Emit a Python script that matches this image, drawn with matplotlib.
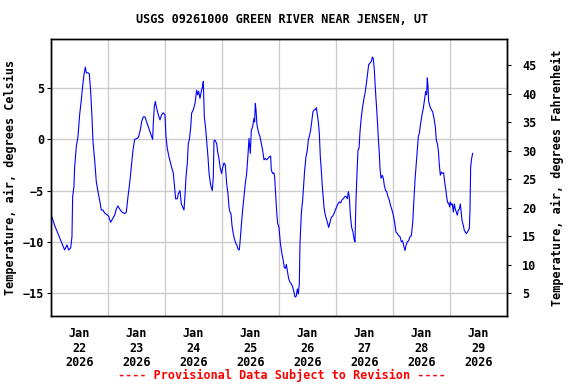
import pandas as pd
import matplotlib
matplotlib.use("Agg")
import matplotlib.pyplot as plt
import matplotlib.dates as mdates
import matplotlib.ticker as mticker

# hours after 2026-01-22 00:00
hours = [
    0.42, 1.54, 2.95, 4.35, 5.75, 6.74, 7.44, 8.28, 8.84, 9.12, 9.68, 9.96,
    10.67, 11.37, 12.07, 12.77, 13.33, 13.89, 14.46, 14.88, 15.58, 16.14,
    16.70, 17.26, 17.68, 18.39, 19.09, 19.79, 20.49, 21.19, 21.90, 22.60,
    23.30, 24.28, 25.12, 26.10, 26.81, 27.51, 28.21, 28.91, 29.89, 31.02,
    31.72, 32.42, 33.12, 33.83, 34.53, 35.23, 36.35, 36.91, 37.75,
    38.17, 38.87, 39.58, 40.28, 40.98, 41.68, 42.80, 43.08, 43.51, 43.93,
    44.49, 45.19, 45.89, 46.59, 47.29, 48.00, 48.42, 48.98, 49.68, 50.38,
    50.94, 51.51, 52.07, 52.49, 53.19, 53.61, 54.31, 54.87, 55.43, 56.00,
    56.42, 56.84, 57.40, 57.82, 58.24, 58.80, 59.22, 59.93, 60.63, 61.33,
    61.75, 62.17, 62.73, 63.29, 63.86, 64.14, 64.56, 65.12, 65.54, 66.10,
    66.52, 66.94, 67.37, 67.93, 68.35, 68.63, 69.05, 69.75, 70.17, 70.73,
    71.29, 71.86, 72.28, 72.84, 73.40, 73.96, 74.52, 74.94, 75.36, 75.79,
    76.21,
    76.63, 77.19, 77.89, 78.32, 78.74, 79.30, 79.72, 80.14, 80.70, 81.26,
    81.82, 82.39, 82.95, 83.37, 83.93, 84.35, 84.91, 85.47, 85.75, 86.03,
    86.32, 86.74, 87.30, 88.00, 88.56, 89.12, 89.68, 90.25, 90.81, 91.37,
    91.93, 92.49, 92.77, 93.33, 93.89, 94.17, 94.60, 95.02, 95.44, 96.00,
    96.56, 97.26, 97.68, 98.24, 98.67, 99.09, 99.51, 100.07, 100.63, 101.19,
    101.75, 102.32, 102.74, 103.30, 103.72, 104.14, 104.56, 104.84, 105.40,
    105.96, 106.38, 106.81, 107.37, 107.93, 108.35, 108.91, 109.33, 109.89,
    110.31, 110.88, 111.30, 111.72, 112.14, 112.56, 112.98, 113.40, 113.82,
    114.24, 114.81,
    114.95, 115.37, 115.93, 116.49, 116.91, 117.48, 118.04, 118.60, 119.16,
    119.72, 120.28, 120.84, 121.41, 121.97, 122.53, 123.09, 123.65, 124.21,
    124.77, 125.20, 125.62, 126.04, 126.60, 127.16, 127.58, 128.00, 128.42,
    128.84, 129.27, 129.69, 130.11, 130.67, 131.23, 131.79, 132.35, 132.91,
    133.34, 133.76, 134.32, 134.88, 135.30, 135.72, 136.14, 136.56, 136.98,
    137.41, 137.83, 138.25, 138.53, 138.95, 139.51, 139.93, 140.35, 140.91,
    141.34, 141.90, 142.46, 143.02, 143.58, 144.14, 144.70, 145.27, 145.83,
    146.39, 146.95, 147.51, 148.07, 148.63, 149.06, 149.48, 150.04, 150.60,
    151.16, 151.72, 152.28, 152.70,
    153.26, 153.68, 154.24, 154.66, 155.09, 155.65, 156.21, 156.77, 157.33,
    157.75, 158.17, 158.45, 158.73, 159.02, 159.58, 160.14, 160.70, 161.26,
    161.82, 162.24, 162.66, 163.09, 163.51, 163.93, 164.35, 164.91, 165.33,
    165.75, 166.17, 166.59, 167.02, 167.44, 167.86, 168.14, 168.56, 168.98,
    169.40, 169.82, 170.24, 170.66, 171.09, 171.51, 171.93, 172.35, 172.63,
    173.05, 173.61, 174.04, 174.46, 174.88, 175.30, 175.72, 176.14, 176.42,
    176.70, 177.12, 177.54,
]

# air temperature, degrees Celsius
temp_c = [
    -7.6, -8.4, -9.2, -10.0, -10.8, -10.3, -10.8, -10.6, -9.5, -5.6, -4.6, -2.7,
    -0.7, 0.26, 2.4, 3.86, 5.2, 6.3, 7.06, 6.5, 6.5, 6.4,
    4.7, 2.2, -0.2, -2.0, -4.15, -5.1, -5.95, -6.9, -6.9, -7.2,
    -7.3, -7.5, -8.1, -7.7, -7.4, -6.8, -6.5, -6.8, -7.1, -7.25,
    -7.1, -5.6, -4.3, -2.7, -1.05, 0.0, 0.1, 0.26, 1.08,
    1.73, 2.2, 2.2, 1.7, 1.24, 0.75, 0.0, 1.57, 3.2, 3.7,
    3.04, 2.4, 1.9, 2.4, 2.6, 2.4, 0.26, -0.9, -1.7, -2.35,
    -2.85, -3.3, -4.8, -5.8, -5.8, -5.3, -5.0, -6.3, -6.6, -6.9,
    -5.5, -3.7, -2.35, -0.4, -0.07, 1.08, 2.55, 2.9, 3.5, 4.8,
    4.35, 4.7, 4.0, 4.7, 5.2, 5.65, 2.2, 1.08, -0.07, -1.7,
    -3.2, -4.0, -4.6, -5.0, -3.66, -0.13, -0.07, -0.4, -1.2, -1.86,
    -2.84, -3.33, -2.75, -2.3, -2.5, -4.3, -5.3, -6.6, -7.1, -7.25,
    -8.4,
    -9.05, -9.7, -10.2, -10.36, -10.7, -10.8, -9.7, -8.4, -6.9, -5.6,
    -4.3, -3.33, -1.5, 0.1, -1.37, 0.9, 1.24, 2.05, 1.7, 3.5,
    2.9, 1.4, 0.75, 0.26, -0.4, -1.05, -2.0, -1.86, -2.0, -1.86,
    -1.7, -1.63, -3.0, -3.33, -3.27, -3.66, -5.46, -7.1, -8.2, -8.6,
    -10.1, -11.2, -11.7, -12.5, -12.6, -12.2, -12.8, -13.6, -13.95, -14.1,
    -14.4, -14.9, -15.4, -15.3, -14.6, -15.1, -14.1, -10.2, -7.25,
    -5.95, -4.5, -3.0, -1.7, -1.05, -0.07, 0.42, 0.9, 1.9,
    2.7, 2.9, 2.9, 3.1, 2.4, 1.73, 0.6, -1.7, -3.0,
    -4.6, -6.3,
    -6.6, -7.25, -7.75, -8.2, -8.6, -8.1, -7.6, -7.5, -7.25,
    -6.9, -6.6, -6.3, -6.1, -6.2, -5.9, -5.8, -5.6, -5.55,
    -5.8, -5.1, -5.6, -7.4, -8.6, -9.05, -9.7, -10.0, -5.95,
    -3.33, -1.05, -0.9, 0.75, 2.2, 3.2, 4.0, 4.67, 5.65,
    6.5, 7.3, 7.45, 7.6, 8.04, 7.9, 6.8, 5.0, 3.5,
    1.9, 0.1, -1.37, -2.84, -3.8, -3.5, -3.8, -4.5, -5.0,
    -5.1, -5.6, -5.95, -6.5, -6.9, -7.4, -8.1, -9.05, -9.2,
    -9.4, -9.5, -10.0, -9.9, -10.5, -10.85, -10.36, -10.0, -9.9,
    -9.5, -9.4, -8.2, -6.4,
    -4.0, -2.7, -0.9, 0.26, 0.6, 1.57, 2.4, 3.04, 4.0,
    4.67, 4.35, 6.0, 5.2, 3.7, 3.2, 2.9, 2.7, 2.06,
    1.24, -0.07, -0.4, -1.05, -2.5, -3.5, -3.2, -3.33, -3.27,
    -4.15, -4.8, -5.6, -6.2, -6.2, -6.6, -6.1, -6.4, -6.3,
    -7.1, -6.3, -6.8, -7.1, -7.4, -6.9, -6.8, -6.3, -6.9,
    -7.9, -8.4, -8.9, -9.05, -9.2, -9.05, -8.9, -8.7, -6.9,
    -2.7, -1.86, -1.37,
]

title = "USGS 09261000 GREEN RIVER NEAR JENSEN, UT"
ylabel_c = "Temperature, air, degrees Celsius"
ylabel_f = "Temperature, air, degrees Fahrenheit"
footer = "---- Provisional Data Subject to Revision ----"
c_ticks = [-15, -10, -5, 0, 5]
f_ticks = [5, 10, 15, 20, 25, 30, 35, 40, 45]

start = pd.Timestamp("2026-01-22")
times = start + pd.to_timedelta(hours, unit="h")
ylim_c = (-17.25, 9.8)

mono = {"family": "DejaVu Sans Mono", "weight": "bold", "size": 8.5}

fig = plt.figure(figsize=(5.76, 3.84), dpi=100)
ax = fig.add_axes([0.0885, 0.177, 0.7917, 0.7214])

ax.plot(times, temp_c, color="#0000ff", lw=0.8)

ax.set_xlim(start, start + pd.Timedelta(days=8))
ax.set_ylim(*ylim_c)

# gridlines at midnight, labels at noon
ax.xaxis.set_major_locator(mdates.DayLocator())
ax.xaxis.set_major_formatter(mticker.NullFormatter())
ax.xaxis.set_minor_locator(mdates.HourLocator(byhour=[12]))
ax.xaxis.set_minor_formatter(mdates.DateFormatter("%b\n%d\n%Y"))
ax.tick_params(axis="x", which="both", length=0, pad=8)
ax.grid(True, axis="x", which="major", color="#cccccc", lw=1)

ax.set_yticks(c_ticks)
ax.grid(True, axis="y", color="#cccccc", lw=1)
ax.tick_params(axis="y", length=3, pad=2)
ax.set_axisbelow(True)

for lab in ax.get_xticklabels(minor=True) + ax.get_yticklabels():
    lab.set_fontfamily(mono["family"])
    lab.set_fontweight("bold")
    lab.set_fontsize(mono["size"])
    lab.set_linespacing(1.15)

ax.set_ylabel(ylabel_c, fontdict=mono, labelpad=4)

ax2 = ax.twinx()
ax2.set_ylim(ylim_c[0] * 9 / 5 + 32, ylim_c[1] * 9 / 5 + 32)
ax2.set_yticks(f_ticks)
ax2.tick_params(axis="y", length=3, pad=8)
for lab in ax2.get_yticklabels():
    lab.set_fontfamily(mono["family"])
    lab.set_fontweight("bold")
    lab.set_fontsize(mono["size"])
ax2.set_ylabel(ylabel_f, fontdict=mono, labelpad=10)

for a in (ax, ax2):
    for sp in a.spines.values():
        sp.set_linewidth(1.0)
        sp.set_color("black")

fig.text(0.49, 0.948, title, ha="center", va="center", fontdict=mono)
fig.text(0.49, 0.023, footer, ha="center", va="center", color="#ff0000",
         fontdict=mono)

fig.savefig("out.png", dpi=100)
